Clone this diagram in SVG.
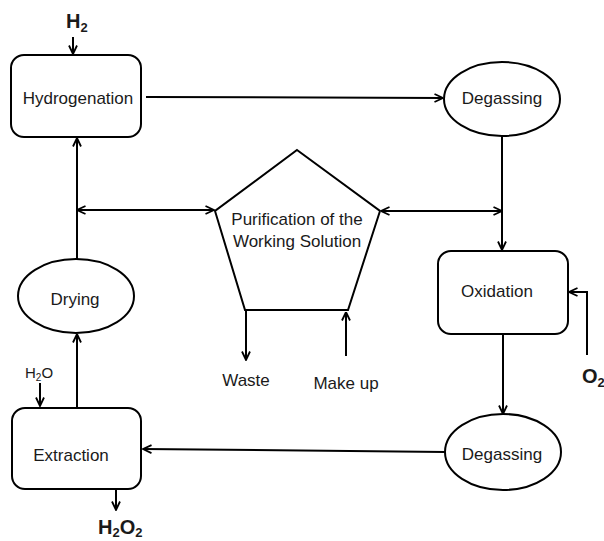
<svg xmlns="http://www.w3.org/2000/svg" width="604" height="541" viewBox="0 0 604 541">
<style>
.shape{fill:#fff;stroke:#000;stroke-width:2}
.conn{fill:none;stroke:#000;stroke-width:2}
text{font-family:"Liberation Sans",Arial,sans-serif;fill:#1a1a1a}
.lbl{font-size:17px;text-anchor:middle}
.bold{font-weight:bold;font-size:20px}
</style>
<defs>
<marker id="ah" viewBox="0 0 10 10" refX="9.5" refY="5" markerWidth="10" markerHeight="10" markerUnits="userSpaceOnUse" orient="auto-start-reverse">
<path d="M1,1 L9.5,5 L1,9" fill="none" stroke="#000" stroke-width="1.8"/>
</marker>
</defs>
<rect width="604" height="541" fill="#fff"/>
<g id="connectors">
<line class="conn" x1="73" y1="37" x2="73" y2="54" marker-end="url(#ah)"/>
<line class="conn" x1="146" y1="97" x2="443" y2="98" marker-end="url(#ah)"/>
<line class="conn" x1="502" y1="136" x2="502" y2="250" marker-end="url(#ah)"/>
<line class="conn" x1="381" y1="211" x2="502" y2="211" marker-start="url(#ah)" marker-end="url(#ah)"/>
<line class="conn" x1="77" y1="210" x2="214" y2="210" marker-start="url(#ah)" marker-end="url(#ah)"/>
<line class="conn" x1="77" y1="259" x2="77" y2="138" marker-end="url(#ah)"/>
<line class="conn" x1="77" y1="408" x2="77" y2="334" marker-end="url(#ah)"/>
<line class="conn" x1="40" y1="383" x2="40" y2="406" marker-end="url(#ah)"/>
<line class="conn" x1="116" y1="489" x2="116" y2="510" marker-end="url(#ah)"/>
<line class="conn" x1="246" y1="310" x2="246" y2="360" marker-end="url(#ah)"/>
<line class="conn" x1="346" y1="356" x2="346" y2="312" marker-end="url(#ah)"/>
<line class="conn" x1="503" y1="334" x2="503" y2="414" marker-end="url(#ah)"/>
<polyline class="conn" points="587,355 587,292 569,292" marker-end="url(#ah)"/>
<line class="conn" x1="445" y1="452" x2="143" y2="449" marker-end="url(#ah)"/>
</g>
<g id="hydrogenation">
<rect class="shape" x="11" y="55" width="130" height="82" rx="13"/>
<text class="lbl" x="78" y="104">Hydrogenation</text>
</g>
<g id="degassing1">
<ellipse class="shape" cx="502" cy="99" rx="58" ry="37"/>
<text class="lbl" x="502" y="104">Degassing</text>
</g>
<g id="purification">
<polygon class="shape" points="297,150 380,211 348,310 245,310 215,211"/>
<text class="lbl" x="297" y="225">Purification of the</text>
<text class="lbl" x="297" y="247">Working Solution</text>
</g>
<g id="oxidation">
<rect class="shape" x="438" y="251" width="130" height="83" rx="13"/>
<text class="lbl" x="497" y="297">Oxidation</text>
</g>
<g id="drying">
<ellipse class="shape" cx="76" cy="296" rx="58" ry="37"/>
<text class="lbl" x="75" y="305">Drying</text>
</g>
<g id="extraction">
<rect class="shape" x="12" y="408" width="129" height="81" rx="13"/>
<text class="lbl" x="71" y="461">Extraction</text>
</g>
<g id="degassing2">
<ellipse class="shape" cx="503" cy="452" rx="58" ry="38"/>
<text class="lbl" x="502" y="460">Degassing</text>
</g>
<g id="labels">
<text class="bold" x="66" y="28">H<tspan font-size="13" dy="4">2</tspan></text>
<text x="25" y="378" font-size="15">H<tspan font-size="10" dy="3">2</tspan><tspan dy="-3">O</tspan></text>
<text class="bold" x="98" y="534">H<tspan font-size="13" dy="3">2</tspan><tspan dy="-3">O</tspan><tspan font-size="13" dy="3">2</tspan></text>
<text class="bold" x="582" y="383">O<tspan font-size="13" dy="4">2</tspan></text>
<text class="lbl" x="246" y="386">Waste</text>
<text class="lbl" x="346" y="389">Make up</text>
</g>
</svg>
